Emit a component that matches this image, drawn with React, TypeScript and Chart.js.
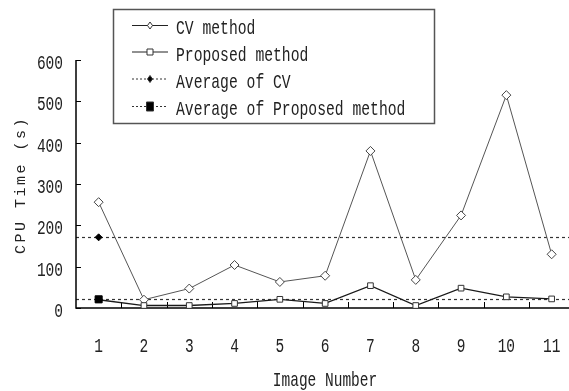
import React, { useEffect, useRef } from "react";
import { Chart, registerables } from "chart.js";

Chart.register(...registerables);

const categories = ["1", "2", "3", "4", "5", "6", "7", "8", "9", "10", "11"];
const cvMethod = [256, 20, 47, 104, 63, 78, 380, 68, 224, 515, 130];
const proposedMethod = [20, 6, 6, 11, 21, 11, 54, 6, 48, 27, 22];
const averageCV = 171;
const averageProposed = 21;
const yTicks = [0, 100, 200, 300, 400, 500, 600];
const legendLabels = ["CV method", "Proposed method", "Average of CV", "Average of Proposed method"];

const FONT = "'Liberation Mono', 'DejaVu Sans Mono', monospace";
const TEXT = "#222";

function condText(ctx: CanvasRenderingContext2D, text: string, x: number, y: number, align: CanvasTextAlign, size = 21, sx = 0.69) {
  ctx.save();
  ctx.translate(x, y);
  ctx.scale(sx, 1);
  ctx.font = `${size}px ${FONT}`;
  ctx.textAlign = align;
  ctx.textBaseline = "alphabetic";
  ctx.fillStyle = TEXT;
  ctx.fillText(text, 0, 0);
  ctx.restore();
}

function marker(ctx: CanvasRenderingContext2D, style: string, x: number, y: number, filled: boolean) {
  ctx.save();
  ctx.setLineDash([]);
  ctx.lineWidth = 1;
  ctx.strokeStyle = "#333";
  ctx.fillStyle = filled ? "#000" : "#fff";
  ctx.beginPath();
  if (style === "diamond") {
    ctx.moveTo(x, y - 3.5);
    ctx.lineTo(x + 2.5, y);
    ctx.lineTo(x, y + 3.5);
    ctx.lineTo(x - 2.5, y);
    ctx.closePath();
  } else if (style === "square") {
    ctx.rect(x - 3, y - 3, 6, 6);
  } else {
    ctx.rect(x - 3.5, y - 4.5, 7, 9);
  }
  ctx.fill();
  ctx.stroke();
  ctx.restore();
}

const framePlugin = {
  id: "frame",
  beforeDatasetsDraw(chart: any) {
    const ctx: CanvasRenderingContext2D = chart.ctx;
    const { left, right, bottom } = chart.chartArea;
    const xs = chart.scales.x;
    const ys = chart.scales.y;
    ctx.save();
    ctx.strokeStyle = "#333";
    ctx.lineWidth = 1.2;
    ctx.setLineDash([3, 3]);
    [averageCV, averageProposed].forEach((v) => {
      const y = Math.round(ys.getPixelForValue(v)) + 0.5;
      ctx.beginPath();
      ctx.moveTo(left, y);
      ctx.lineTo(right + 30, y);
      ctx.stroke();
    });
    ctx.setLineDash([]);
    ctx.strokeStyle = "#000";
    ctx.lineWidth = 1.5;
    const top = ys.getPixelForValue(yTicks[yTicks.length - 1]);
    ctx.beginPath();
    ctx.moveTo(left, top);
    ctx.lineTo(left, bottom);
    ctx.lineTo(right + 30, bottom);
    ctx.stroke();
    ctx.lineWidth = 1;
    yTicks.forEach((t) => {
      const y = Math.round(ys.getPixelForValue(t)) + 0.5;
      ctx.beginPath();
      ctx.moveTo(left, y);
      ctx.lineTo(left + 5, y);
      ctx.stroke();
    });
    for (let i = 0; i < categories.length; i++) {
      const a = xs.getPixelForValue(i);
      const b = i + 1 < categories.length ? xs.getPixelForValue(i + 1) : a + (a - xs.getPixelForValue(i - 1));
      const x = Math.round((a + b) / 2) + 0.5;
      ctx.beginPath();
      ctx.moveTo(x, bottom);
      ctx.lineTo(x, bottom - 6);
      ctx.stroke();
    }
    ctx.restore();
  },
  afterDraw(chart: any) {
    const ctx: CanvasRenderingContext2D = chart.ctx;
    const xs = chart.scales.x;
    const ys = chart.scales.y;
    const { left, bottom, top } = chart.chartArea;
    yTicks.forEach((t) => {
      condText(ctx, String(t), left - 13, ys.getPixelForValue(t) + 9, "right");
    });
    categories.forEach((c, i) => {
      condText(ctx, c, xs.getPixelForValue(i), bottom + 44, "center");
    });
    condText(ctx, "Image Number", 325, 386, "center");
    // y title
    ctx.save();
    ctx.translate(25, (top + bottom) / 2 + 1);
    ctx.rotate(-Math.PI / 2);
    ctx.font = `15px ${FONT}`;
    (ctx as any).letterSpacing = "2.5px";
    ctx.fillStyle = TEXT;
    ctx.textAlign = "center";
    ctx.textBaseline = "alphabetic";
    ctx.fillText("CPU Time (s)", 0, 0);
    ctx.restore();
    // legend
    ctx.save();
    ctx.strokeStyle = "#555";
    ctx.lineWidth = 1.5;
    ctx.strokeRect(113.5, 9.5, 321, 114);
    ctx.restore();
    const rowY = [25.5, 52, 79, 106.5];
    const styles = ["diamond", "square", "diamond", "big"];
    legendLabels.forEach((label, i) => {
      const y = rowY[i];
      ctx.save();
      ctx.strokeStyle = i < 2 ? "#222" : "#333";
      ctx.lineWidth = i < 2 ? 1.2 : 1;
      ctx.setLineDash(i < 2 ? [] : [2, 2]);
      ctx.beginPath();
      ctx.moveTo(132, y);
      ctx.lineTo(168, y);
      ctx.stroke();
      ctx.restore();
      marker(ctx, styles[i], 150, y, i >= 2);
      condText(ctx, label, 176, y + 8.5, "left", 21, 0.7);
    });
  },
};

export default function App() {
  const ref = useRef<HTMLCanvasElement | null>(null);
  useEffect(() => {
    if (!ref.current) return;
    const chart = new Chart(ref.current, {
      type: "line",
      data: {
        labels: categories,
        datasets: [
          {
            label: legendLabels[3],
            data: categories.map((_, i) => (i === 0 ? averageProposed : null)),
            showLine: false,
            pointStyle: "rect",
            pointRadius: 5,
            pointBackgroundColor: "#000",
            pointBorderColor: "#000",
            order: 0,
          },
          {
            label: legendLabels[2],
            data: categories.map((_, i) => (i === 0 ? averageCV : null)),
            showLine: false,
            pointStyle: "rectRot",
            pointRadius: 3.5,
            pointBackgroundColor: "#000",
            pointBorderColor: "#000",
            order: 0,
          },
          {
            label: legendLabels[1],
            data: proposedMethod,
            borderColor: "#1a1a1a",
            borderWidth: 1.3,
            pointStyle: "rect",
            pointRadius: 4,
            pointBorderWidth: 1,
            pointBackgroundColor: "#fff",
            pointBorderColor: "#333",
            order: 1,
          },
          {
            label: legendLabels[0],
            data: cvMethod,
            borderColor: "#555",
            borderWidth: 1,
            pointStyle: "rectRot",
            pointRadius: 4.5,
            pointBorderWidth: 1,
            pointBackgroundColor: "#fff",
            pointBorderColor: "#444",
            order: 2,
          },
        ],
      },
      options: {
        animation: false,
        responsive: false,
        devicePixelRatio: 1,
        layout: { padding: { left: 76, top: 60, right: 600 - 574.3, bottom: 83 } },
        plugins: { legend: { display: false }, tooltip: { enabled: false }, title: { display: false } },
        scales: {
          x: { type: "category", offset: true, display: false },
          y: { type: "linear", min: 0, max: 600, display: false },
        },
      },
      plugins: [framePlugin],
    });
    return () => chart.destroy();
  }, []);
  return (
    <div style={{ position: "fixed", left: 0, top: 0, width: 569, height: 391, overflow: "hidden", background: "#fff" }}>
      <canvas ref={ref} width={600} height={391} style={{ display: "block" }} />
    </div>
  );
}
